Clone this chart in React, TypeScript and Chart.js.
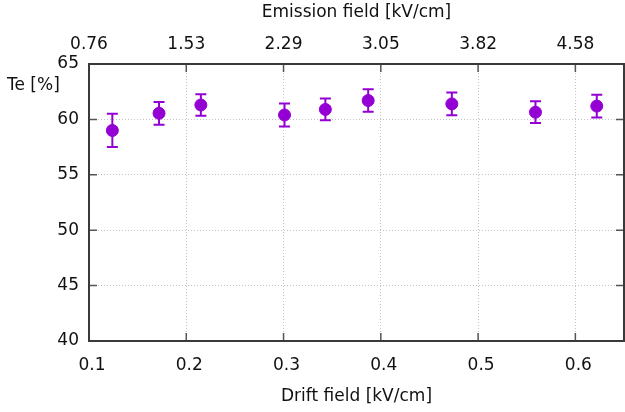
import React, { useEffect, useRef } from "react";
import { Chart, registerables } from "chart.js";

Chart.register(...registerables);

// ---- data ----
const driftField = [0.124, 0.172, 0.215, 0.301, 0.343, 0.387, 0.473, 0.559, 0.622];
const efficiency = [59.0, 60.55, 61.3, 60.4, 60.9, 61.7, 61.4, 60.65, 61.2];
const efficiencyErr = [1.5, 1.03, 0.97, 1.03, 0.98, 1.02, 1.03, 0.98, 1.03];

const driftTicks = [0.1, 0.2, 0.3, 0.4, 0.5, 0.6];
const driftTickLabels = ["0.1", "0.2", "0.3", "0.4", "0.5", "0.6"];
const emissionTickLabels = ["0.76", "1.53", "2.29", "3.05", "3.82", "4.58"];
const yTicks = [40, 45, 50, 55, 60, 65];

const xMin = 0.1;
const xMax = 0.65;
const yMin = 40;
const yMax = 65;

const xTitle = "Drift field [kV/cm]";
const x2Title = "Emission field [kV/cm]";
const yTitle = "Te [%]";

// ---- styles ----
const COLOR = "#9400d3";
const FONT = "'DejaVu Sans', sans-serif";
const FONT_SIZE = 17;
const TEXT = "#111111";
const GRID = "#c4c4c4";

const errorBarPlugin = {
  id: "errorBars",
  beforeDatasetsDraw(chart: any) {
    const { ctx, scales } = chart;
    const x = scales.x;
    const y = scales.y;
    ctx.save();
    ctx.strokeStyle = COLOR;
    ctx.lineWidth = 2;
    const cap = 5.5;
    driftField.forEach((xv, i) => {
      const px = x.getPixelForValue(xv);
      const top = y.getPixelForValue(efficiency[i] + efficiencyErr[i]);
      const bot = y.getPixelForValue(efficiency[i] - efficiencyErr[i]);
      ctx.beginPath();
      ctx.moveTo(px, top);
      ctx.lineTo(px, bot);
      ctx.moveTo(px - cap, top);
      ctx.lineTo(px + cap, top);
      ctx.moveTo(px - cap, bot);
      ctx.lineTo(px + cap, bot);
      ctx.stroke();
    });
    ctx.restore();
  },
};

const framePlugin = {
  id: "frame",
  afterDraw(chart: any) {
    const { ctx, chartArea: a, scales } = chart;
    const x = scales.x;
    const y = scales.y;
    ctx.save();
    ctx.strokeStyle = "#555555";
    ctx.lineWidth = 1.5;
    ctx.beginPath();
    driftTicks.forEach((v) => {
      const px = x.getPixelForValue(v);
      if (px <= a.left + 1 || px >= a.right - 1) return;
      ctx.moveTo(px, a.bottom);
      ctx.lineTo(px, a.bottom - 8);
      ctx.moveTo(px, a.top);
      ctx.lineTo(px, a.top + 8);
    });
    yTicks.forEach((v) => {
      const py = y.getPixelForValue(v);
      if (py >= a.bottom - 1 || py <= a.top + 1) return;
      ctx.moveTo(a.left, py);
      ctx.lineTo(a.left + 8, py);
      ctx.moveTo(a.right, py);
      ctx.lineTo(a.right - 8, py);
    });
    ctx.stroke();
    ctx.strokeStyle = "#3a3a3a";
    ctx.lineWidth = 2;
    ctx.strokeRect(a.left, a.top, a.right - a.left, a.bottom - a.top);

    ctx.fillStyle = TEXT;
    ctx.font = `${FONT_SIZE}px ${FONT}`;
    ctx.textBaseline = "middle";
    ctx.textAlign = "left";
    ctx.fillText(yTitle, 7, a.top + 22);
    ctx.restore();
  },
};

export default function App() {
  const canvasRef = useRef<HTMLCanvasElement | null>(null);

  useEffect(() => {
    if (!canvasRef.current) return;
    const font = { family: FONT, size: FONT_SIZE };
    const chart = new Chart(canvasRef.current, {
      type: "scatter",
      data: {
        datasets: [
          {
            data: driftField.map((xv, i) => ({ x: xv, y: efficiency[i] })),
            backgroundColor: COLOR,
            borderColor: COLOR,
            pointRadius: 6,
            pointBorderWidth: 1,
          },
        ],
      },
      options: {
        animation: false,
        responsive: false,
        devicePixelRatio: 1,
        layout: { autoPadding: false, padding: { left: 0, right: 1, top: 0, bottom: 0 } },
        plugins: {
          legend: { display: false },
          tooltip: { enabled: false },
        },
        scales: {
          x: {
            type: "linear",
            position: "bottom",
            min: xMin,
            max: xMax,
            afterBuildTicks: (s: any) => {
              s.ticks = driftTicks.map((v) => ({ value: v }));
            },
            afterFit: (s: any) => {
              s.height = 71;
              s.paddingLeft = 0;
              s.paddingRight = 0;
            },
            grid: { color: GRID, lineWidth: 1, drawTicks: false },
            border: { display: false, dash: [1, 2] },
            ticks: {
              padding: 14,
              labelOffset: 3,
              font,
              color: TEXT,
              maxRotation: 0,
              autoSkip: false,
              callback: (_v: any, i: number) => driftTickLabels[i],
            },
            title: {
              display: true,
              text: xTitle,
              font,
              color: TEXT,
              padding: { top: 0, bottom: 5 },
            },
          },
          x2: {
            type: "linear",
            position: "top",
            min: xMin,
            max: xMax,
            afterBuildTicks: (s: any) => {
              s.ticks = driftTicks.map((v) => ({ value: v }));
            },
            afterFit: (s: any) => {
              s.height = 64;
              s.paddingLeft = 0;
              s.paddingRight = 0;
            },
            grid: { display: false, drawTicks: false },
            border: { display: false },
            ticks: {
              padding: 9,
              font,
              color: TEXT,
              maxRotation: 0,
              autoSkip: false,
              callback: (_v: any, i: number) => emissionTickLabels[i],
            },
            title: {
              display: true,
              text: x2Title,
              font,
              color: TEXT,
              padding: { top: 2, bottom: 0 },
            },
          },
          y: {
            type: "linear",
            position: "left",
            min: yMin,
            max: yMax,
            afterBuildTicks: (s: any) => {
              s.ticks = yTicks.map((v) => ({ value: v }));
            },
            afterFit: (s: any) => {
              s.width = 89;
              s.paddingTop = 0;
              s.paddingBottom = 0;
            },
            grid: { color: GRID, lineWidth: 1, drawTicks: false },
            border: { display: false, dash: [1, 2] },
            ticks: {
              padding: 10,
              font,
              color: TEXT,
              autoSkip: false,
            },
          },
        },
      } as any,
      plugins: [errorBarPlugin, framePlugin],
    });
    return () => chart.destroy();
  }, []);

  return (
    <div style={{ position: "absolute", left: 0, top: 0, width: 625, height: 412, background: "#fff" }}>
      <canvas ref={canvasRef} width={625} height={412} />
    </div>
  );
}
